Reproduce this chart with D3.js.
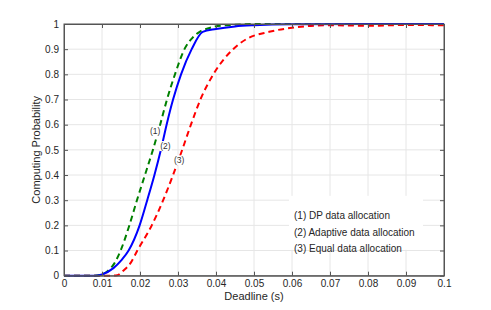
<!DOCTYPE html>
<html><head><meta charset="utf-8">
<script src="https://cdn.jsdelivr.net/npm/d3@7"></script>
<style>body{margin:0;background:#fff}svg{display:block;font-family:"Liberation Sans",Arial,sans-serif}</style>
</head><body><svg id="c" width="491" height="310"></svg>
<script>
const xTicks = [0,0.01,0.02,0.03,0.04,0.05,0.06,0.07,0.08,0.09,0.1];
const yTicks = [0,0.1,0.2,0.3,0.4,0.5,0.6,0.7,0.8,0.9,1];
const xTickLabels = ["0","0.01","0.02","0.03","0.04","0.05","0.06","0.07","0.08","0.09","0.1"];
const yTickLabels = ["0","0.1","0.2","0.3","0.4","0.5","0.6","0.7","0.8","0.9","1"];

const dpX = [0,0.008,0.010,0.0116,0.0133,0.0149,0.0172,0.0192,0.0213,0.0234,0.0253,0.0271,0.0292,0.0317,0.0338,0.0358,0.0378,0.0397,0.045,0.05,0.1];
const dpY = [0,0,0.005,0.02,0.05,0.1,0.2,0.3,0.4,0.5,0.6,0.7,0.8,0.9,0.945,0.97,0.982,0.99,0.997,1,1];

const adX = [0,0.008,0.010,0.013,0.015,0.0170,0.0199,0.0219,0.0238,0.0255,0.0270,0.0287,0.0308,0.0336,0.0365,0.040,0.045,0.05,0.06,0.1];
const adY = [0,0,0.005,0.03,0.06,0.1,0.2,0.3,0.4,0.5,0.6,0.7,0.8,0.9,0.969,0.98,0.99,0.995,0.999,1];

const eqX = [0,0.012,0.014,0.0156,0.0175,0.0193,0.0231,0.0261,0.0287,0.0311,0.0334,0.0359,0.0393,0.0445,0.048,0.054,0.06,0.07,0.08,0.09,0.1];
const eqY = [0,0,0.002,0.02,0.05,0.1,0.2,0.3,0.4,0.5,0.6,0.7,0.8,0.9,0.94,0.969,0.985,0.995,0.993,0.996,0.995];

const labels = ["(1)","(2)","(3)"];
const labelX = [0.0240,0.0267,0.0303];
const labelY = [0.575,0.515,0.458];
const legendLines = ["(1) DP data allocation","(2) Adaptive data allocation","(3) Equal data allocation"];

const svg = d3.select("#c");
const L=64,R=444,T=24,B=275.7;
const x = d3.scaleLinear().domain([0,0.1]).range([L,R]);
const y = d3.scaleLinear().domain([0,1]).range([B,T]);

// grid
svg.append("g").selectAll("line").data(xTicks.slice(1,-1)).join("line")
 .attr("x1",d=>x(d)).attr("x2",d=>x(d)).attr("y1",T).attr("y2",B)
 .attr("stroke","#e6e6e6").attr("stroke-width",1);
svg.append("g").selectAll("line").data(yTicks.slice(1,-1)).join("line")
 .attr("y1",d=>y(d)).attr("y2",d=>y(d)).attr("x1",L).attr("x2",R)
 .attr("stroke","#e6e6e6").attr("stroke-width",1);

// legend box (white, covers grid)
const legX = 292, legY0 = 0.238;
svg.append("rect").attr("x",legX-3).attr("y",y(legY0)-20).attr("width",134).attr("height",54).attr("fill","#fff");

const line = d3.line().x(d=>x(d[0])).y(d=>y(d[1])).curve(d3.curveMonotoneX);
const series = [
 {xs:eqX,ys:eqY,color:"#ff0000",dash:"6,4"},
 {xs:dpX,ys:dpY,color:"#008000",dash:"6,4"},
 {xs:adX,ys:adY,color:"#0000ff",dash:null}
];
series.forEach(s=>{
 const p = svg.append("path").datum(s.xs.map((v,i)=>[v,s.ys[i]]))
  .attr("d",line).attr("fill","none").attr("stroke",s.color).attr("stroke-width",2);
 if(s.dash) p.attr("stroke-dasharray",s.dash);
});

// in-plot labels with white background
labels.forEach((t,i)=>{
 const g = svg.append("g");
 const tx = g.append("text").attr("x",x(labelX[i])).attr("y",y(labelY[i])).attr("text-anchor","middle")
  .attr("dominant-baseline","central").attr("font-size",8.5).attr("fill","#333").text(t);
 const bb = tx.node().getBBox();
 g.insert("rect","text").attr("x",bb.x-1).attr("y",bb.y).attr("width",bb.width+2).attr("height",bb.height).attr("fill","#fff");
});

// legend text
legendLines.forEach((t,i)=>{
 svg.append("text").attr("x",legX+2).attr("y",y(legY0)+i*16.5).attr("font-size",10).attr("fill","#262626")
  .attr("dominant-baseline","central").text(t);
});

// axes box
const ac = "#555";
svg.append("rect").attr("x",L).attr("y",T).attr("width",R-L).attr("height",B-T).attr("fill","none").attr("stroke",ac).attr("stroke-width",1);
const ax = d3.axisBottom(x).tickValues(xTicks).tickFormat((d,i)=>xTickLabels[i]).tickSizeInner(-4).tickSizeOuter(0).tickPadding(4);
const gx = svg.append("g").attr("transform",`translate(0,${B})`).call(ax);
const ay = d3.axisLeft(y).tickValues(yTicks).tickFormat((d,i)=>yTickLabels[i]).tickSizeInner(-4).tickSizeOuter(0).tickPadding(5);
const gy = svg.append("g").attr("transform",`translate(${L},0)`).call(ay);
const gt = svg.append("g").attr("transform",`translate(0,${T})`).call(d3.axisTop(x).tickValues(xTicks).tickSizeInner(-4).tickSizeOuter(0).tickFormat(""));
const gr = svg.append("g").attr("transform",`translate(${R},0)`).call(d3.axisRight(y).tickValues(yTicks).tickSizeInner(-4).tickSizeOuter(0).tickFormat(""));
[gx,gy,gt,gr].forEach(g=>{
 g.select(".domain").attr("stroke",ac);
 g.selectAll(".tick line").attr("stroke",ac);
 g.selectAll("text").attr("font-size",10).attr("fill","#262626").attr("font-family","Liberation Sans,Arial,sans-serif");
});

svg.append("text").attr("x",(L+R)/2).attr("y",300).attr("text-anchor","middle").attr("font-size",11).attr("fill","#262626").text("Deadline (s)");
svg.append("text").attr("transform",`translate(40,${(T+B)/2}) rotate(-90)`).attr("text-anchor","middle").attr("font-size",11).attr("fill","#262626").text("Computing Probability");
</script></body></html>
